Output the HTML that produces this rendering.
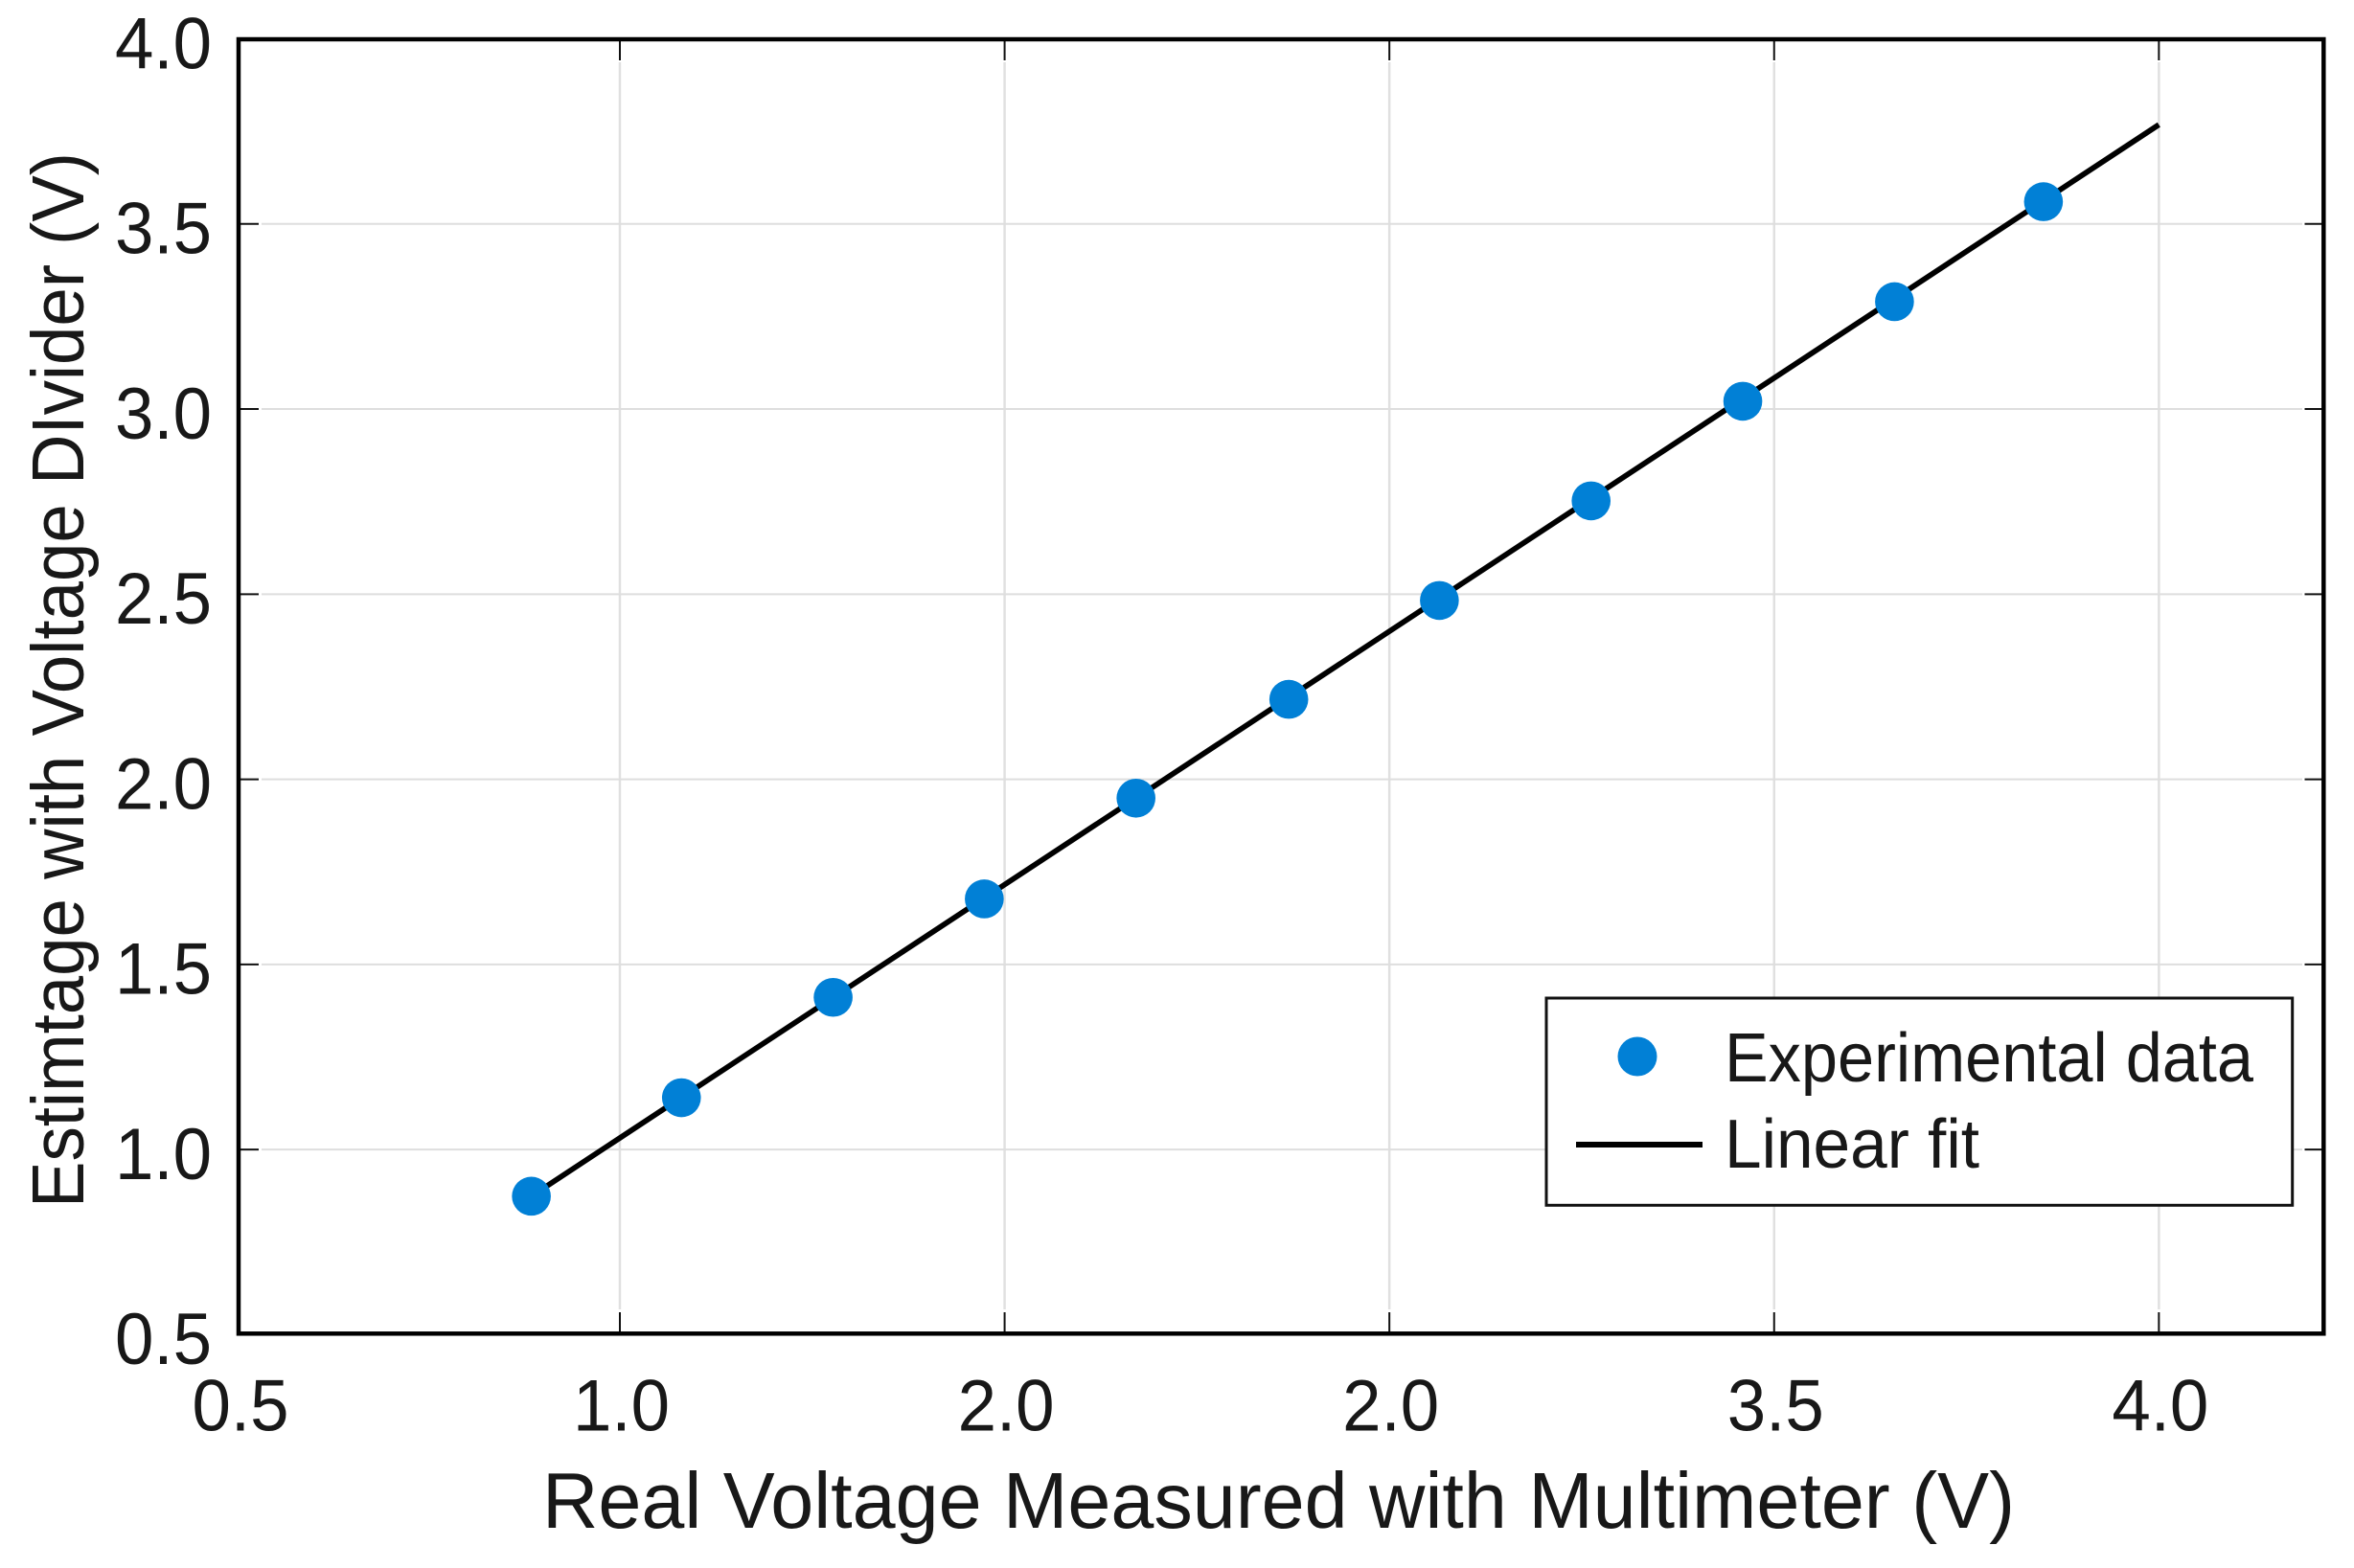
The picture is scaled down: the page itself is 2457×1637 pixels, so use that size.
<!DOCTYPE html>
<html lang="en">
<head>
<meta charset="utf-8">
<title>Voltage divider estimate vs multimeter</title>
<style>
html,body{margin:0;padding:0;background:#fff;}
body{width:2457px;height:1637px;overflow:hidden;}
svg{display:block;}
text{font-family:"Liberation Sans",Arial,sans-serif;fill:#181818;}
</style>
</head>
<body>
<svg id="chart" xmlns="http://www.w3.org/2000/svg" width="2457" height="1637" viewBox="0 0 2457 1637">
  <rect x="0" y="0" width="2457" height="1637" fill="#ffffff"/>
  <g id="grid"></g>
  <g id="fit"></g>
  <g id="points"></g>
  <g id="ticks"></g>
  <rect x="249" y="41" width="2176.3" height="1351.3" fill="none" stroke="#000" stroke-width="4.5"/>
  <g id="tick-labels"></g>
  <text x="566" y="1595" font-size="83" textLength="1537" lengthAdjust="spacingAndGlyphs">Real Voltage Measured with Multimeter (V)</text>
  <text transform="translate(87,1261) rotate(-90)" x="0" y="0" font-size="77" textLength="1102" lengthAdjust="spacingAndGlyphs">Estimtage with Voltage DIvider (V)</text>
  <g>
    <rect x="1614" y="1042" width="778.7" height="216.3" fill="#ffffff" stroke="#111" stroke-width="3"/>
    <circle cx="1709" cy="1103" r="20.5" fill="#0180d6"/>
    <text x="1800" y="1129" font-size="72" textLength="552" lengthAdjust="spacingAndGlyphs">Experimental data</text>
    <line x1="1645" y1="1195" x2="1777" y2="1195" stroke="#000" stroke-width="6"/>
    <text x="1800" y="1219" font-size="72" textLength="266" lengthAdjust="spacingAndGlyphs">Linear fit</text>
  </g>
</svg>
<script>
const xTickValues = [0.5, 1.2, 1.9, 2.6, 3.3, 4.0];
const xTickLabels = ["0.5", "1.0", "2.0", "2.0", "3.5", "4.0"];
const yTickValues = [0.5, 1.0, 1.5, 2.0, 2.5, 3.0, 3.5, 4.0];
const yTickLabels = ["0.5", "1.0", "1.5", "2.0", "2.5", "3.0", "3.5", "4.0"];
const measuredVoltage = [1.039, 1.312, 1.588, 1.863, 2.139, 2.417, 2.691, 2.967, 3.243, 3.519, 3.790];
const estimatedVoltage = [0.874, 1.140, 1.411, 1.677, 1.949, 2.216, 2.483, 2.752, 3.021, 3.290, 3.560];
const fitX = [1.039, 4.0];
const fitY = [0.874, 3.768];

const NS = 'http://www.w3.org/2000/svg';
function xPos(v) { return 245.4 + (v - 0.5) * 573.7; }
function yPos(v) { return 1393.4 - (v - 0.5) * 386.54; }
function make(tag, attrs, parent) {
  const el = document.createElementNS(NS, tag);
  for (const k in attrs) el.setAttribute(k, attrs[k]);
  parent.appendChild(el);
  return el;
}
const gridLayer = document.getElementById('grid');
const tickLayer = document.getElementById('ticks');
const labelLayer = document.getElementById('tick-labels');
const fitLayer = document.getElementById('fit');
const pointLayer = document.getElementById('points');

xTickValues.forEach(function (v, i) {
  const x = xPos(v);
  if (i > 0) {
    const g = make('line', {x1: x, y1: 65, x2: x, y2: 1367, stroke: '#e0e0e0', 'stroke-width': 2.5}, gridLayer);
    
    
    const t1 = make('line', {x1: x, y1: 41, x2: x, y2: 63, stroke: '#111', 'stroke-width': 2}, tickLayer);
    
    
    const t2 = make('line', {x1: x, y1: 1392, x2: x, y2: 1370, stroke: '#111', 'stroke-width': 2}, tickLayer);
    
    
  }
  const label = make('text', {x: x + (i === 0 ? 5.6 : 1.5), y: 1493.5, 'font-size': 76, 'text-anchor': 'middle', textLength: 101, lengthAdjust: 'spacingAndGlyphs'}, labelLayer);
  label.textContent = xTickLabels[i];
  
  
});

yTickValues.forEach(function (v, i) {
  const y = yPos(v);
  if (i > 0 && i < yTickValues.length - 1) {
    const g = make('line', {x1: 273, y1: y, x2: 2403, y2: y, stroke: '#dedede', 'stroke-width': 2}, gridLayer);
    
    
    const t1 = make('line', {x1: 249, y1: y, x2: 270, y2: y, stroke: '#111', 'stroke-width': 2}, tickLayer);
    
    
    const t2 = make('line', {x1: 2425, y1: y, x2: 2405.5, y2: y, stroke: '#111', 'stroke-width': 2}, tickLayer);
    
    
  }
  const label = make('text', {x: 221, y: y + 30.8, 'font-size': 76, 'text-anchor': 'end', textLength: 101, lengthAdjust: 'spacingAndGlyphs'}, labelLayer);
  label.textContent = yTickLabels[i];
  
  
});

const fitPath = fitX.map(function (v, i) { return xPos(v) + ',' + yPos(fitY[i]); }).join(' ');
const fitLine = make('polyline', {points: fitPath, fill: 'none', stroke: '#000', 'stroke-width': 5.7}, fitLayer);



measuredVoltage.forEach(function (v, i) {
  const c = make('circle', {cx: xPos(v), cy: yPos(estimatedVoltage[i]), r: 20.3, fill: '#0180d6'}, pointLayer);
  
  
});
</script>
</body>
</html>
